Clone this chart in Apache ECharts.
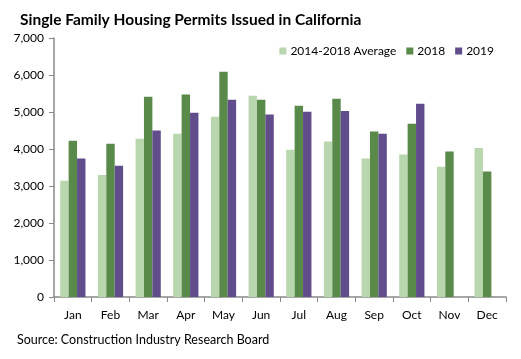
<!DOCTYPE html>
<html><head><meta charset="utf-8">
<script src="https://cdn.jsdelivr.net/npm/echarts@6/dist/echarts.min.js"></script>
<style>html,body{margin:0;padding:0;background:#fff}#c{width:521px;height:359px}</style>
</head><body><div id="c"></div>
<script>
const months = ['Jan','Feb','Mar','Apr','May','Jun','Jul','Aug','Sep','Oct','Nov','Dec'];
const avg1418 = [3140,3300,4280,4410,4870,5440,3980,4200,3740,3850,3520,4030];
const y2018 = [4220,4140,5410,5470,6090,5330,5170,5360,4470,4680,3930,3390];
const y2019 = [3740,3550,4500,4980,5330,4930,5010,5030,4410,5220,null,null];
const yTicks = [0,1000,2000,3000,4000,5000,6000,7000];
const FONT = 'Lato';
const chart = echarts.init(document.getElementById('c'));
chart.setOption({
  animation:false,
  textStyle:{fontFamily:FONT},
  title:{text:'Single Family Housing Permits Issued in California',left:15,top:7,
    textStyle:{fontFamily:FONT,fontSize:15.5,fontWeight:'bold',color:'#000'}},
  legend:{right:22,top:40,itemWidth:7,itemHeight:7,itemGap:10,icon:'rect',
    textStyle:{fontFamily:FONT,fontSize:12,color:'#000',padding:[0,0,0,-1]},
    data:['2014-2018 Average','2018','2019']},
  graphic:[{type:'text',left:17,top:333,style:{text:'Source: Construction Industry Research Board',
    font:'12.5px '+FONT,fill:'#000'}}],
  grid:{left:54,right:15,top:38,bottom:62,containLabel:false},
  xAxis:{type:'category',data:months,
    axisLine:{lineStyle:{color:'#898989',width:1.5}},
    axisTick:{show:true,alignWithLabel:false,length:5,lineStyle:{color:'#898989'}},
    axisLabel:{color:'#000',fontSize:12,fontFamily:FONT,margin:12}},
  yAxis:{type:'value',min:yTicks[0],max:yTicks[yTicks.length-1],interval:1000,
    axisLine:{show:true,lineStyle:{color:'#898989',width:1.5}},
    axisTick:{show:true,length:5,lineStyle:{color:'#898989'}},
    splitLine:{show:false},
    axisLabel:{color:'#000',fontSize:12,fontFamily:FONT,margin:10,
      formatter:v=>v.toLocaleString('en-US')}},
  series:[
    {name:'2014-2018 Average',type:'bar',data:avg1418,itemStyle:{color:'#B9D7AE'},barGap:'0%',barCategoryGap:'33%'},
    {name:'2018',type:'bar',data:y2018,itemStyle:{color:'#5A8A4A'},barGap:'0%',barCategoryGap:'33%'},
    {name:'2019',type:'bar',data:y2019,itemStyle:{color:'#624D8C'},barGap:'0%',barCategoryGap:'33%'}
  ]
});
</script></body></html>
